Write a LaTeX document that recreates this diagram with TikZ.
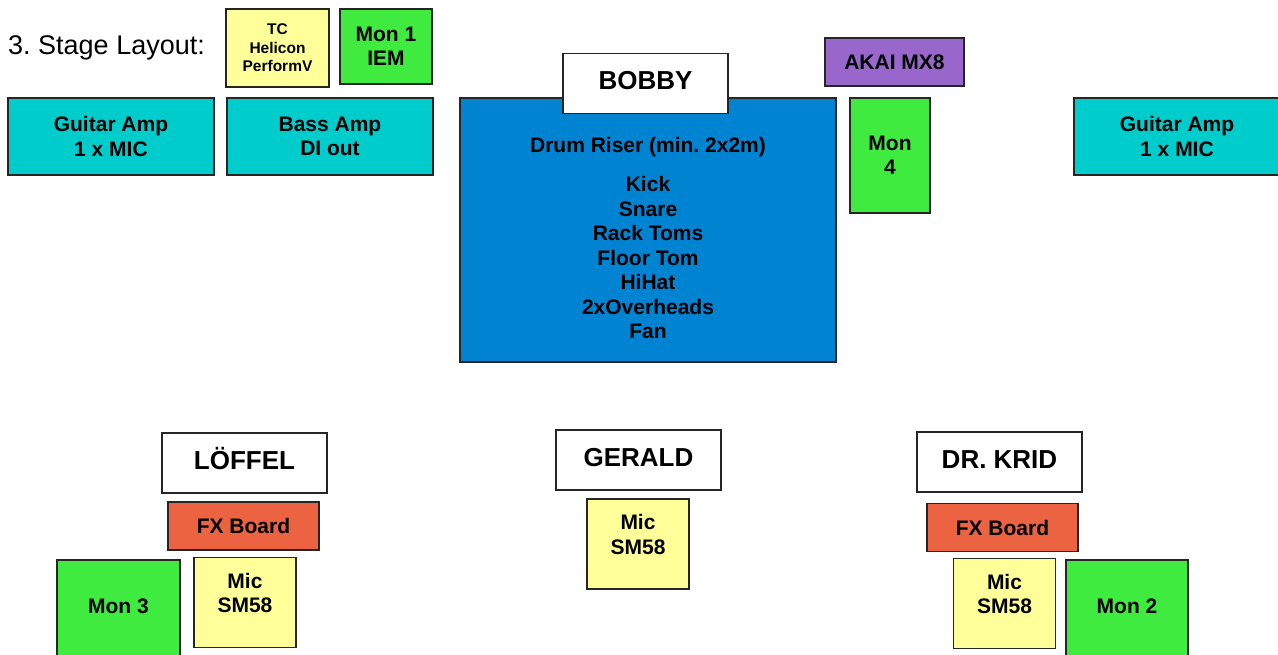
\documentclass[tikz,border=0pt]{standalone}
\usepackage{fontspec}
\setmainfont{Liberation Sans}
\frenchspacing
\definecolor{ampcyan}{RGB}{0,204,204}
\definecolor{mongreen}{RGB}{64,235,64}
\definecolor{micyellow}{RGB}{255,255,153}
\definecolor{fxred}{RGB}{235,99,64}
\definecolor{riserblue}{RGB}{0,132,209}
\definecolor{mixerpurple}{RGB}{153,102,204}
\newcommand\boxfont{\bfseries\fontsize{21}{24.5}\selectfont}
\newcommand\namefont{\bfseries\fontsize{26}{30}\selectfont}
\newcommand\smallfont{\bfseries\fontsize{15.5}{18.5}\selectfont}
\tikzset{
  box/.style={draw=black!85, line width=1.3pt, align=center, font=\boxfont, inner sep=0pt},
  amp/.style={box, fill=ampcyan, minimum width=206pt, minimum height=77pt},
  monitor/.style={box, fill=mongreen},
  mic/.style={box, fill=micyellow, text depth=19pt, minimum width=102pt, minimum height=90pt},
  fx/.style={box, fill=fxred, minimum width=151pt, minimum height=48pt},
  player/.style={box, fill=white, font=\namefont, text height=13pt, text depth=0pt,
    minimum width=165pt, minimum height=60pt}
}

\begin{document}
\begin{tikzpicture}[x=1pt, y=-1pt]
\useasboundingbox (0,0) rectangle (1278,655);
\node[anchor=base west, font=\fontsize{27}{30}\selectfont, inner sep=0pt] (title) at (8,55) {3. Stage Layout:};
% back line
\node[box, fill=micyellow, font=\smallfont, minimum width=103pt, minimum height=78pt] (tc) at (277.5,48) {TC\\Helicon\\PerformV};
\node[monitor, minimum width=92pt, minimum height=75pt] (mon1) at (386,46.5) {Mon 1\\IEM};
\node[amp] (gampL) at (111,136.5) {Guitar Amp\\1 x MIC};
\node[amp] (bamp) at (330,136.5) {Bass Amp\\DI out};
\node[amp] (gampR) at (1177,136.5) {Guitar Amp\\1 x MIC};
% drums
\node[box, fill=riserblue, text height=217pt, text depth=0pt, minimum width=376pt, minimum height=264pt] (riser) at (648,230)
  {Drum Riser (min. 2x2m)\\[14.5pt]Kick\\Snare\\Rack Toms\\Floor Tom\\HiHat\\2xOverheads\\Fan};
\node[player] (bobby) at (645.5,83.5) {BOBBY};
\node[box, fill=mixerpurple, minimum width=139pt, minimum height=48pt] (akai) at (894.5,62) {AKAI MX8};
\node[monitor, minimum width=80pt, minimum height=115pt] (mon4) at (890,155.5) {Mon\\4};
% front line
\node[player] (loffel) at (244.5,463) {LÖFFEL};
\node[fx] (fxL) at (243.5,526) {FX Board};
\node[mic] (micL) at (245,602.5) {Mic\\SM58};
\node[monitor, text depth=6pt, minimum width=123pt, minimum height=98pt] (mon3) at (118.5,609) {Mon 3};
\node[player] (gerald) at (638.5,460) {GERALD};
\node[mic] (micC) at (638,544) {Mic\\SM58};
\node[player] (krid) at (999.5,462) {DR. KRID};
\node[fx] (fxR) at (1002.5,527.5) {FX Board};
\node[mic] (micR) at (1004.5,603.5) {Mic\\SM58};
\node[monitor, text depth=6pt, minimum width=122pt, minimum height=98pt] (mon2) at (1127,609) {Mon 2};
\end{tikzpicture}
\end{document}
